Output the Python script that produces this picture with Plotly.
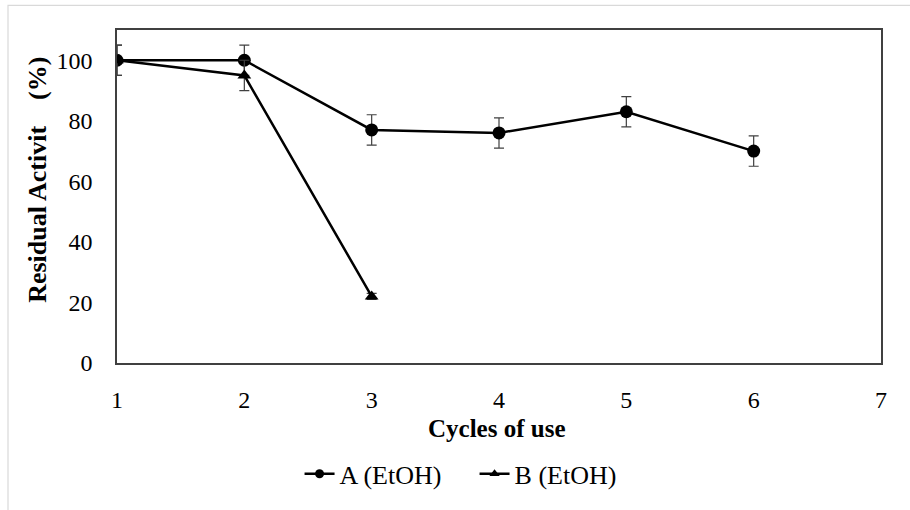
import plotly.graph_objects as go

cycles_a = [1, 2, 3, 4, 5, 6]
activity_a = [100, 100, 77, 76, 83, 70]
err_a = [5, 5, 5, 5, 5, 5]

cycles_b = [1, 2, 3]
activity_b = [100, 95, 22]
err_b = [5, 5, 1]

x_ticks = [1, 2, 3, 4, 5, 6, 7]
y_ticks = [0, 20, 40, 60, 80, 100]

FONT = "Liberation Serif"

fig = go.Figure()
fig.add_trace(go.Scatter(
    x=cycles_a, y=activity_a, name="A (EtOH)", mode="lines+markers",
    legendgroup="a", showlegend=False,
    line=dict(color="black", width=2.5),
    marker=dict(symbol="circle", size=13, color="black"),
    error_y=dict(type="data", array=err_a, color="#404040", thickness=1.2, width=5),
))
fig.add_trace(go.Scatter(
    x=cycles_b, y=activity_b, name="B (EtOH)", mode="lines+markers",
    legendgroup="b", showlegend=False,
    line=dict(color="black", width=2.5),
    marker=dict(symbol="triangle-up", size=12, color="black"),
    error_y=dict(type="data", array=err_b, color="#404040", thickness=1.2, width=5),
))
# legend entries with smaller symbols
fig.add_trace(go.Scatter(x=[None], y=[None], name="A (EtOH)", mode="lines+markers",
                         legendgroup="a", line=dict(color="black", width=2.5),
                         marker=dict(symbol="circle", size=9, color="black")))
fig.add_trace(go.Scatter(x=[None], y=[None], name="B (EtOH)", mode="lines+markers",
                         legendgroup="b", line=dict(color="black", width=2.5),
                         marker=dict(symbol="triangle-up", size=9, color="black")))

fig.update_layout(
    width=910, height=510,
    margin=dict(l=117, r=29, t=30, b=141),
    paper_bgcolor="white", plot_bgcolor="white",
    font=dict(family=FONT, size=24, color="black"),
    showlegend=True,
    legend=dict(orientation="h", x=0.468, xanchor="center", y=-0.333, yanchor="middle",
                font=dict(family=FONT, size=26, color="black"),
                entrywidth=130, tracegroupgap=0),
    xaxis=dict(range=[1, 7], tickvals=x_ticks, showgrid=False, zeroline=False,
               showline=True, linecolor="#404040", linewidth=1.5, mirror=True,
               ticks="", ticklabelstandoff=14, tickfont=dict(family=FONT, size=24)),
    yaxis=dict(range=[0, 110], tickvals=y_ticks, showgrid=False, zeroline=False,
               showline=True, linecolor="#404040", linewidth=1.5, mirror=True,
               ticks="", ticklabelstandoff=18, tickfont=dict(family=FONT, size=24)),
    annotations=[
        dict(text="<b>Residual Activit\u00a0\u00a0\u00a0\u00a0(%)</b>", textangle=-90,
             xref="paper", yref="paper", x=0, y=0.55, xshift=-79,
             xanchor="center", yanchor="middle", showarrow=False,
             font=dict(family=FONT, size=26, color="black")),
        dict(text="<b>Cycles of use</b>",
             xref="paper", yref="paper", x=0.497, y=-0.198,
             xanchor="center", yanchor="middle", showarrow=False,
             font=dict(family=FONT, size=25, color="black")),
    ],
    shapes=[dict(type="rect", xref="paper", yref="paper",
                 x0=-109/764, x1=1.2, y0=-0.6, y1=1 + 25/339,
                 line=dict(color="#d9d9d9", width=1.2), fillcolor="rgba(0,0,0,0)", layer="below")],
)

fig.write_html("out.html", config={"displayModeBar": False},
               post_script="document.body.style.margin='0';")
